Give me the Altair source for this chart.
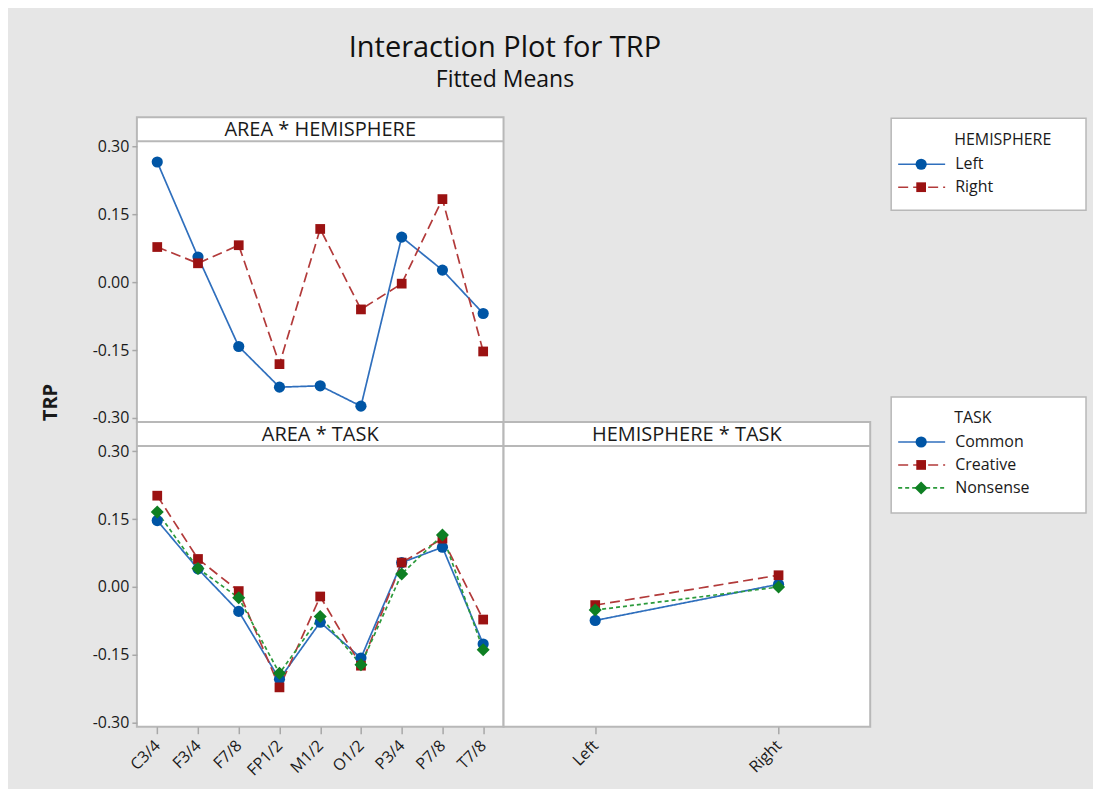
import altair as alt
import pandas as pd

FONT = "Open Sans"

# ---------------- data ----------------
areas = ["C3/4", "F3/4", "F7/8", "FP1/2", "M1/2", "O1/2", "P3/4", "P7/8", "T7/8"]
hemispheres = ["Left", "Right"]
tasks = ["Common", "Creative", "Nonsense"]

hemi_left = [0.266, 0.056, -0.142, -0.232, -0.229, -0.274, 0.100, 0.027, -0.069]
hemi_right = [0.078, 0.042, 0.082, -0.181, 0.118, -0.060, -0.003, 0.184, -0.153]

task_common = [0.147, 0.040, -0.054, -0.204, -0.078, -0.157, 0.054, 0.088, -0.126]
task_creative = [0.202, 0.062, -0.009, -0.222, -0.021, -0.174, 0.054, 0.107, -0.072]
task_nonsense = [0.166, 0.041, -0.024, -0.191, -0.065, -0.172, 0.029, 0.115, -0.139]

ht_common = [-0.074, 0.006]
ht_creative = [-0.040, 0.026]
ht_nonsense = [-0.051, 0.000]

panel_titles = ["AREA * HEMISPHERE", "AREA * TASK", "HEMISPHERE * TASK"]
legend_titles = ["HEMISPHERE", "TASK"]
y_ticks = [-0.30, -0.15, 0.00, 0.15, 0.30]
y_title = "TRP"
main_title = "Interaction Plot for TRP"
sub_title = "Fitted Means"

# ---------------- styles ----------------
series_keys = hemispheres + tasks
line_cols = ["#2f6fbd", "#b23a3a", "#2f6fbd", "#b23a3a", "#2b9a3b"]
mark_cols = ["#0055a5", "#9b1212", "#0055a5", "#9b1212", "#0e7f23"]
dashes = [[1, 0], [10, 5], [1, 0], [10, 5], [4, 3]]
shapes = ["circle", "square", "circle", "square", "diamond"]
sizes = [125, 95, 125, 95, 170]
TXT = "#1a1a1a"
BORDER = "#b8b8b8"


def long_df(xs, series_names, series_vals):
    rows = []
    for name, vals in zip(series_names, series_vals):
        for xv, yv in zip(xs, vals):
            rows.append({"x": xv, "s": name, "y": yv})
    return pd.DataFrame(rows)


df_ah = long_df(areas, hemispheres, [hemi_left, hemi_right])
df_at = long_df(areas, tasks, [task_common, task_creative, task_nonsense])
df_ht = long_df(hemispheres, tasks, [ht_common, ht_creative, ht_nonsense])

W = 367
H = 281
HH = 24
YDOM = [-0.309, 0.312]
label_expr = "replace(format(datum.value, '.2f'), '\u2212', '-')"

ENC = dict(
    stroke=alt.Stroke("s:N", scale=alt.Scale(domain=series_keys, range=line_cols), legend=None),
    strokeDash=alt.StrokeDash("s:N", scale=alt.Scale(type="ordinal", domain=series_keys, range=dashes), legend=None),
    fill=alt.Fill("s:N", scale=alt.Scale(domain=series_keys, range=mark_cols), legend=None),
    shape=alt.Shape("s:N", scale=alt.Scale(type="ordinal", domain=series_keys, range=shapes), legend=None),
    size=alt.Size("s:N", scale=alt.Scale(type="ordinal", domain=series_keys, range=sizes), legend=None),
)


def panel(df, xdom, title, x_axis, y_axis):
    x = alt.X("x:N", scale=alt.Scale(type="point", domain=xdom, padding=0.5), sort=xdom, axis=x_axis)
    y = alt.Y("y:Q", scale=alt.Scale(domain=YDOM, nice=False, zero=False, range=[H + HH, HH]), axis=y_axis)
    base = alt.Chart(df)
    lines = base.mark_line(strokeWidth=1.7).encode(
        x=x, y=y, stroke=ENC["stroke"], strokeDash=ENC["strokeDash"], detail="s:N"
    )
    pts = base.mark_point(filled=True, opacity=1, strokeWidth=0).encode(
        x=x, y=y, fill=ENC["fill"], shape=ENC["shape"], size=ENC["size"]
    )
    hdf = pd.DataFrame({"t": [title]})
    hline = alt.Chart(hdf).mark_rule(color=BORDER, strokeWidth=2).encode(
        x=alt.value(0), x2=alt.value(W), y=alt.value(HH)
    )
    htxt = alt.Chart(hdf).mark_text(
        fontSize=20, font=FONT, color=TXT, baseline="middle", align="center"
    ).encode(x=alt.value(W / 2), y=alt.value(HH / 2 + 1), text="t:N")
    return alt.layer(lines, pts, hline, htxt).properties(width=W, height=H + HH)


def x_axis():
    return alt.Axis(
        title=None, labelAngle=-45, labelAlign="right", labelBaseline="middle",
        tickSize=7, labelPadding=9,
    )


y_axis_top = alt.Axis(
    title=y_title, values=y_ticks, labelExpr=label_expr, tickSize=5,
    titleX=-86, titleY=HH + 261, titleAngle=-90, titleAlign="center", titleBaseline="middle",
    titleFontSize=20, titleFontWeight="bold", titleFont=FONT, titleColor=TXT,
)
y_axis_bot = alt.Axis(title=None, values=y_ticks, labelExpr=label_expr, tickSize=5)

p1 = panel(df_ah, areas, panel_titles[0], None, y_axis_top)
p2 = panel(df_at, areas, panel_titles[1], x_axis(), y_axis_bot)
p3 = panel(df_ht, hemispheres, panel_titles[2], x_axis(), None)

# ---------------- legends (drawn in the empty top-right cell) ----------------
LX = 388  # legend box left, relative to the empty cell
LW = 195


def legend_layer(title, labels, box_y0, box_y1, title_y, y0, dy):
    n = len(labels)
    df = pd.DataFrame({"s": labels, "i": list(range(n))})
    tdf = pd.DataFrame({"t": [title]})
    y = alt.Y("i:Q", scale=alt.Scale(domain=[0, n - 1], range=[y0, y0 + dy * (n - 1)]), axis=None)
    box = alt.Chart(tdf).mark_rect(fill="white", stroke=BORDER, strokeWidth=1.5).encode(
        x=alt.value(LX), x2=alt.value(LX + LW), y=alt.value(box_y0), y2=alt.value(box_y1)
    )
    base = alt.Chart(df)
    rule = base.mark_rule(strokeWidth=1.6).encode(
        x=alt.value(LX + 7), x2=alt.value(LX + 54), y=y,
        stroke=ENC["stroke"], strokeDash=ENC["strokeDash"],
    )
    pts = base.mark_point(filled=True, opacity=1, strokeWidth=0).encode(
        x=alt.value(LX + 30), y=y, fill=ENC["fill"], shape=ENC["shape"], size=ENC["size"]
    )
    txt = base.mark_text(align="left", baseline="middle", fontSize=16, font=FONT, color=TXT).encode(
        x=alt.value(LX + 64), y=y, text="s:N"
    )
    ttl = alt.Chart(tdf).mark_text(
        align="left", baseline="middle", fontSize=16, font=FONT, color=TXT
    ).encode(x=alt.value(LX + 63), y=alt.value(title_y), text="t:N")
    return alt.layer(box, rule, pts, txt, ttl)


leg1 = legend_layer(legend_titles[0], hemispheres, 1, 93, 23, 47, 23)
leg2 = legend_layer(legend_titles[1], tasks, 280, 396, 301, 325, 23)
legends = (
    alt.layer(leg1, leg2)
    .resolve_scale(y="independent")
    .properties(width=W, height=H + HH,
                view=alt.ViewBackground(fill="transparent", stroke="transparent"))
)

chart = (
    alt.concat(p1, legends, p2, p3, columns=2, spacing=0, bounds="flush")
    .properties(
        title=alt.TitleParams(
            text=main_title, subtitle=sub_title, anchor="middle", dx=-59,
            font=FONT, fontSize=29, fontWeight="normal", color="#111111",
            subtitleFont=FONT, subtitleFontSize=23, subtitleColor="#111111",
            subtitlePadding=6, offset=24,
        ),
        background="#e6e6e6",
        padding={"left": 32, "top": 26, "right": 5, "bottom": 9},
    )
    .configure_view(fill="white", stroke=BORDER, strokeWidth=2)
    .configure_axis(
        labelFont=FONT, labelFontSize=16, labelColor=TXT, tickColor="#a8a8a8",
        tickWidth=1.5, domain=False, grid=False, labelPadding=3,
    )
)

chart.save("out.html", embed_options={"renderer": "svg", "actions": False})
